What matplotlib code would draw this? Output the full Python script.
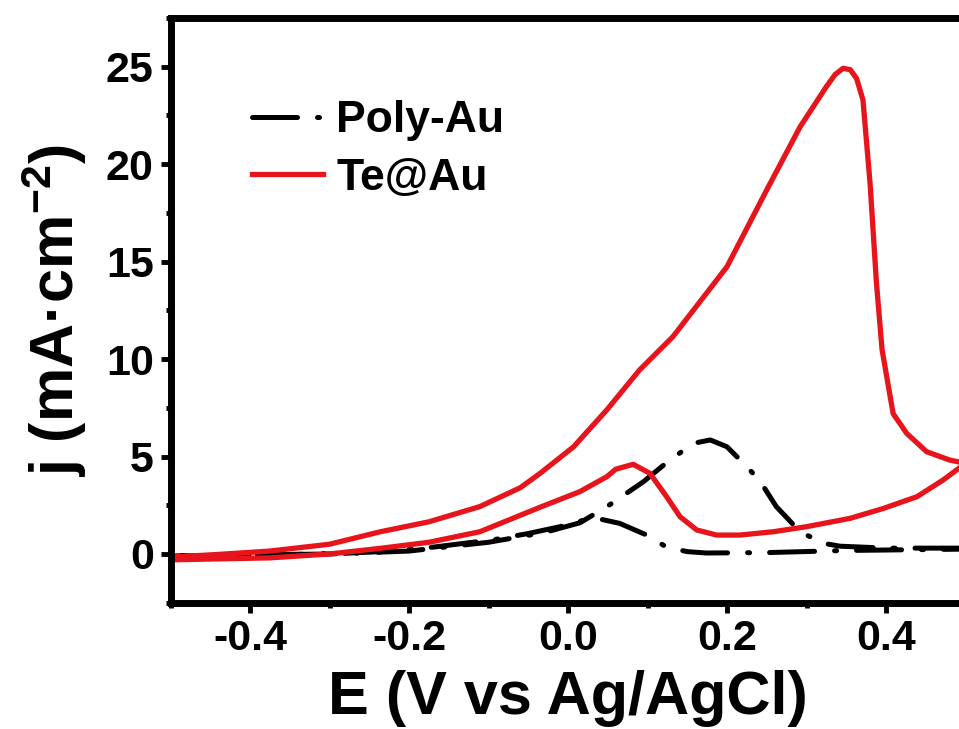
import matplotlib
matplotlib.use("Agg")
import matplotlib.pyplot as plt
from matplotlib.ticker import MultipleLocator

plt.rcParams['font.family'] = ['Liberation Sans', 'DejaVu Sans']
plt.rcParams['font.weight'] = 'bold'
plt.rcParams['mathtext.default'] = 'regular'
plt.rcParams['axes.unicode_minus'] = False

# Poly-Au, anodic scan (lower branch with small hump)
poly_fwd_E = [-0.5, -0.4, -0.3, -0.236, -0.17, -0.12, -0.098, -0.05, -0.01, 0.011,
              0.036, 0.065, 0.099, 0.124, 0.15, 0.174, 0.25, 0.35, 0.5]
poly_fwd_j = [-0.1, -0.05, 0.0, 0.12, 0.35, 0.6, 0.7, 1.05, 1.4, 1.66,
              1.83, 1.57, 0.97, 0.35, 0.12, 0.05, 0.07, 0.18, 0.25]
# Poly-Au, cathodic scan (upper branch, big peak)
poly_rev_E = [0.5, 0.4, 0.342, 0.321, 0.292, 0.262, 0.242, 0.225, 0.2, 0.179,
              0.158, 0.128, 0.095, 0.049, 0.015, -0.03, -0.1, -0.2, -0.3, -0.5]
poly_rev_j = [0.3, 0.3, 0.4, 0.55, 1.14, 2.43, 3.71, 4.48, 5.5, 5.85,
              5.68, 4.82, 3.71, 2.43, 1.6, 1.1, 0.6, 0.15, 0.0, -0.1]

# Te@Au, anodic scan
te_fwd_E = [-0.5, -0.45, -0.375, -0.3, -0.236, -0.175, -0.111, -0.06, -0.035, 0.007,
            0.049, 0.09, 0.132, 0.2, 0.25, 0.292, 0.325, 0.336, 0.346, 0.355,
            0.363, 0.371, 0.38, 0.388, 0.395, 0.403, 0.409, 0.426, 0.451, 0.48, 0.5]
te_fwd_j = [-0.15, -0.05, 0.15, 0.5, 1.14, 1.65, 2.43, 3.4, 4.14, 5.5,
            7.4, 9.44, 11.15, 14.74, 18.68, 21.92, 23.98, 24.6, 24.92, 24.85,
            24.4, 23.3, 19.0, 13.9, 10.5, 8.6, 7.2, 6.19, 5.25, 4.82, 4.65]
# Te@Au, cathodic scan
te_rev_E = [0.5, 0.472, 0.439, 0.397, 0.355, 0.3, 0.258, 0.216, 0.187, 0.162,
            0.141, 0.124, 0.103, 0.082, 0.06, 0.049, 0.015, -0.035, -0.111, -0.175,
            -0.236, -0.3, -0.375, -0.5]
te_rev_j = [4.65, 3.8, 2.94, 2.34, 1.83, 1.4, 1.14, 0.97, 0.97, 1.23,
            1.91, 2.94, 4.14, 4.6, 4.35, 3.97, 3.2, 2.4, 1.14, 0.6,
            0.29, 0.0, -0.2, -0.3]

fig = plt.figure(figsize=(9.59, 7.29), dpi=100)
ax = fig.add_axes([170.5 / 959, 126.3 / 729, 795 / 959, 584.7 / 729])

ax.plot(poly_fwd_E + poly_rev_E, poly_fwd_j + poly_rev_j, color='black', lw=3.6,
        dashes=(9, 4, 0.4, 4), dash_capstyle='round', label='Poly-Au')
ax.plot(te_fwd_E + te_rev_E, te_fwd_j + te_rev_j, color='#e8141c', lw=3.8,
        solid_joinstyle='round', label='Te@Au')

ax.set_xlim(-0.5, 0.5)
ax.set_ylim(-2.5, 27.5)
ax.set_xticks([-0.4, -0.2, 0.0, 0.2, 0.4])
ax.set_yticks([0, 5, 10, 15, 20, 25])
ax.xaxis.set_minor_locator(MultipleLocator(0.1))
ax.yaxis.set_minor_locator(MultipleLocator(2.5))
ax.tick_params(which='major', direction='out', length=7, width=3.5, labelsize=31, pad=5)
ax.tick_params(which='minor', direction='out', length=3.6, width=3.5)
ax.tick_params(top=False, right=False)
for s in ax.spines.values():
    s.set_linewidth(5)

ax.set_xlabel('E (V vs Ag/AgCl)', fontsize=44, fontweight='bold', labelpad=8)
ax.set_ylabel('j (mA·cm$^{-2}$)', fontsize=44, fontweight='bold', labelpad=12)

ax.legend(loc='upper left', bbox_to_anchor=(0.08, 0.89), frameon=False, fontsize=32,
          handlelength=1.6, handletextpad=0.3, labelspacing=0.38, borderaxespad=0)

fig.savefig('out.png', dpi=100)
